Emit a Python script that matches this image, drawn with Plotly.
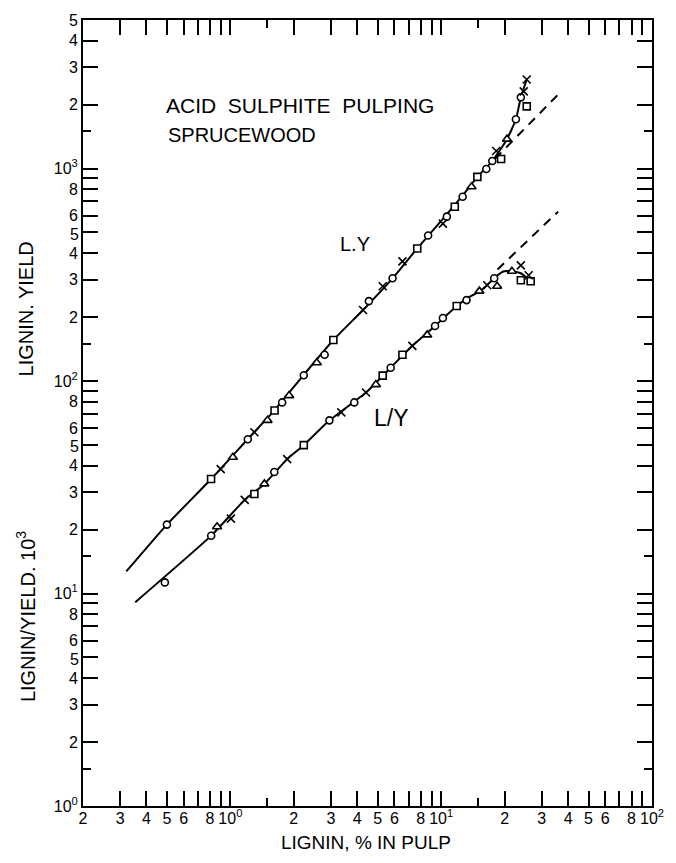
import math
import plotly.graph_objects as go

# ---------------- data ----------------
# L.Y curve (lignin x yield)
ly_line_x = [0.321, 0.500, 0.811, 1.208, 1.616, 2.23, 3.08, 4.26, 5.88, 7.70, 10.41, 12.51, 14.85, 17.47, 20.52, 22.62, 23.87, 25.46]
ly_line_y = [12.7, 21.1, 34.6, 53.2, 72.7, 107, 156, 216, 304, 421, 594, 737, 913, 1085, 1375, 1706, 2162, 2624]
ly_dash_x = [18.0, 36.7]
ly_dash_y = [1110, 2282]

ly_circ_x = [0.50, 1.21, 1.76, 2.23, 2.80, 4.54, 5.88, 8.67, 10.64, 12.64, 16.37, 17.47, 22.62, 23.87]
ly_circ_y = [21.1, 53.2, 79.3, 106.5, 132.9, 237.7, 304.5, 483.8, 593.6, 736.6, 995.6, 1085, 1706, 2162]
ly_sq_x = [0.81, 1.62, 3.08, 7.70, 11.6, 14.85, 19.24, 25.46]
ly_sq_y = [34.6, 72.7, 156, 420.7, 661.4, 913, 1109, 1962]
ly_tri_x = [1.028, 1.50, 1.90, 2.57, 13.93, 20.52]
ly_tri_y = [43.8, 65.3, 85.4, 121.9, 820.3, 1375]
ly_x_x = [0.90, 1.30, 4.26, 5.28, 6.55, 10.19, 18.24, 24.64, 25.46]
ly_x_y = [38.5, 57.4, 216, 279.4, 365.7, 550.7, 1209, 2307, 2624]

# L/Y curve (lignin / yield x 10^3)
lpy_line_x = [0.354, 0.811, 1.170, 1.451, 1.859, 2.23, 2.954, 4.40, 5.76, 7.30, 9.35, 11.85, 13.34, 15.51, 18.24, 19.87, 21.66, 23.87, 26.58]
lpy_line_y = [9.10, 18.72, 27.58, 32.77, 42.9, 49.9, 65.3, 88.3, 115.5, 146.4, 181.6, 225.3, 245.5, 267.6, 311.2, 328.5, 328.5, 321.4, 294.9]
lpy_dash_x = [18.5, 35.9]
lpy_dash_y = [335, 627]

lpy_circ_x = [0.489, 0.811, 1.616, 2.95, 3.87, 5.76, 9.35, 10.19, 13.19, 17.84]
lpy_circ_y = [11.28, 18.7, 37.3, 65.3, 79.3, 115.5, 181.6, 197.9, 240.3, 304.5]
lpy_sq_x = [1.30, 2.23, 5.28, 6.55, 11.85, 23.87, 26.58]
lpy_sq_y = [29.4, 49.9, 106, 132.9, 225.3, 298, 294.9]
lpy_tri_x = [0.865, 1.45, 4.90, 8.58, 15.18, 18.43, 21.66]
lpy_tri_y = [20.6, 32.8, 96.2, 164.8, 264.8, 279.4, 328.5]
lpy_x_x = [1.006, 1.17, 1.86, 3.36, 4.40, 7.30, 16.55, 23.87, 26.0]
lpy_x_y = [22.5, 27.6, 42.9, 71.2, 88.3, 146.4, 282.4, 350.3, 314.6]

# tick definitions
labeled_mantissas = [1, 2, 3, 4, 5, 6, 8]
unlabeled_mantissas = [7, 9]
short_mantissas = [1.5]
x_decades = [-1, 0, 1]
x_last_exp = 2
y_decades = [0, 1, 2]
y_top_exp = 3
y_top_mantissas = [1, 2, 3, 4, 5]
y_annot_mantissa = 5     # drawn as nudged labels so 5 and 6 do not collide

def dec_label(e):
    return "10<sup>%d</sup>" % e

# x ticks
xt_vals, xt_text = [], []
for e in x_decades:
    for m in labeled_mantissas:
        if e == x_decades[0] and m == 1:
            continue
        xt_vals.append(m * 10.0 ** e)
        xt_text.append(dec_label(e) if m == 1 else str(m))
xt_vals.append(10.0 ** x_last_exp)
xt_text.append(dec_label(x_last_exp))
x_minor = [m * 10.0 ** e for e in x_decades for m in unlabeled_mantissas]
x_short = [m * 10.0 ** e for e in x_decades for m in short_mantissas]

# y ticks
yt_vals, yt_text = [], []
for e in y_decades:
    for m in labeled_mantissas:
        if m == y_annot_mantissa:
            continue
        yt_vals.append(m * 10.0 ** e)
        yt_text.append(dec_label(e) if m == 1 else str(m))
for m in y_top_mantissas:
    yt_vals.append(m * 10.0 ** y_top_exp)
    yt_text.append(dec_label(y_top_exp) if m == 1 else str(m))
y_minor = [m * 10.0 ** e for e in y_decades for m in unlabeled_mantissas + [y_annot_mantissa]]
y_short = [m * 10.0 ** e for e in y_decades + [y_top_exp] for m in short_mantissas]

BLACK = "#000000"
FONT = "Liberation Sans, DejaVu Sans, sans-serif"
TICK_SIZE = 16
X_RANGE = [math.log10(0.2), 2.0]
Y_RANGE = [0.0, math.log10(5000)]

fig = go.Figure()

def add_line(x, y):
    fig.add_trace(go.Scatter(x=x, y=y, mode="lines",
                             line=dict(color=BLACK, width=2, shape="spline", smoothing=0.5),
                             showlegend=False, hoverinfo="skip"))

def add_markers(x, y, symbol, size):
    fill = BLACK if symbol.startswith("x") else "white"
    fig.add_trace(go.Scatter(x=x, y=y, mode="markers",
                             marker=dict(symbol=symbol, size=size, color=fill,
                                         line=dict(color=BLACK, width=1.6)),
                             showlegend=False, hoverinfo="skip"))

add_line(ly_line_x, ly_line_y)
add_line(lpy_line_x, lpy_line_y)
# dashed extrapolations (drawn on the overlay axes, which share the same ranges)
for dx, dy in [(ly_dash_x, ly_dash_y), (lpy_dash_x, lpy_dash_y)]:
    fig.add_trace(go.Scatter(x=dx, y=dy, mode="lines", xaxis="x2", yaxis="y2",
                             line=dict(color=BLACK, width=2, dash="9px,7px"),
                             showlegend=False, hoverinfo="skip"))

for xs, ys, sym, sz in [
    (ly_circ_x, ly_circ_y, "circle", 7), (ly_sq_x, ly_sq_y, "square", 7),
    (ly_tri_x, ly_tri_y, "triangle-up", 8), (ly_x_x, ly_x_y, "x-thin", 8),
    (lpy_circ_x, lpy_circ_y, "circle", 7), (lpy_sq_x, lpy_sq_y, "square", 7),
    (lpy_tri_x, lpy_tri_y, "triangle-up", 8), (lpy_x_x, lpy_x_y, "x-thin", 8),
]:
    add_markers(xs, ys, sym, sz)

axis_common = dict(
    type="log", showgrid=False, zeroline=False,
    showline=True, linecolor=BLACK, linewidth=2, mirror="ticks",
    ticks="inside", ticklen=15, tickwidth=2, tickcolor=BLACK,
    tickfont=dict(family=FONT, size=TICK_SIZE, color=BLACK),
    tickmode="array",
)
minor_common = dict(tickmode="array", ticks="inside", ticklen=15, tickwidth=2, tickcolor=BLACK)
overlay_common = dict(type="log", showgrid=False, zeroline=False, showline=False,
                      ticks="inside", ticklen=8, tickwidth=2, tickcolor=BLACK,
                      showticklabels=False, mirror="ticks", tickmode="array")

fig.update_layout(
    xaxis=dict(**axis_common, range=X_RANGE, tickvals=xt_vals, ticktext=xt_text,
               ticklabelstandoff=-3, minor=dict(**minor_common, tickvals=x_minor)),
    yaxis=dict(**axis_common, range=Y_RANGE, tickvals=yt_vals, ticktext=yt_text,
               minor=dict(**minor_common, tickvals=y_minor)),
    xaxis2=dict(**overlay_common, range=X_RANGE, tickvals=x_short, overlaying="x", anchor="y2"),
    yaxis2=dict(**overlay_common, range=Y_RANGE, tickvals=y_short, overlaying="y", anchor="x2"),
)

# "5" labels on the y axis, nudged slightly so they do not collide with the "6"
for e in y_decades:
    fig.add_annotation(text=str(y_annot_mantissa), xref="paper", yref="y",
                       x=0, y=math.log10(y_annot_mantissa * 10.0 ** e),
                       xanchor="right", yanchor="middle", xshift=-2, yshift=-2,
                       showarrow=False, font=dict(family=FONT, size=TICK_SIZE, color=BLACK))

def ann(text, x, y, size=20, angle=0, xanchor="center"):
    fig.add_annotation(text=text, x=x, y=y, xref="paper", yref="paper", showarrow=False,
                       font=dict(family=FONT, size=size, color=BLACK), textangle=angle,
                       xanchor=xanchor, yanchor="middle")

ann("ACID\u00a0\u00a0SULPHITE\u00a0\u00a0PULPING", 0.1424, 0.8914, size=21, xanchor="left")
ann("SPRUCEWOOD", 0.1458, 0.8535, size=20, xanchor="left")
ann("L.Y", 0.4774, 0.7146, size=20)
ann("L/Y", 0.5417, 0.4937, size=23)
ann("LIGNIN, % IN PULP", 0.498, -0.046, size=19)
ann("LIGNIN. YIELD", -0.1007, 0.6326, size=20, angle=-90)
ann("LIGNIN/YIELD. 10<sup>3</sup>", -0.1007, 0.2412, size=20, angle=-90)

fig.update_layout(
    width=676, height=863,
    margin=dict(l=83, r=17, t=14, b=57),
    paper_bgcolor="white", plot_bgcolor="white",
    showlegend=False,
)

fig.write_html("out.html")
